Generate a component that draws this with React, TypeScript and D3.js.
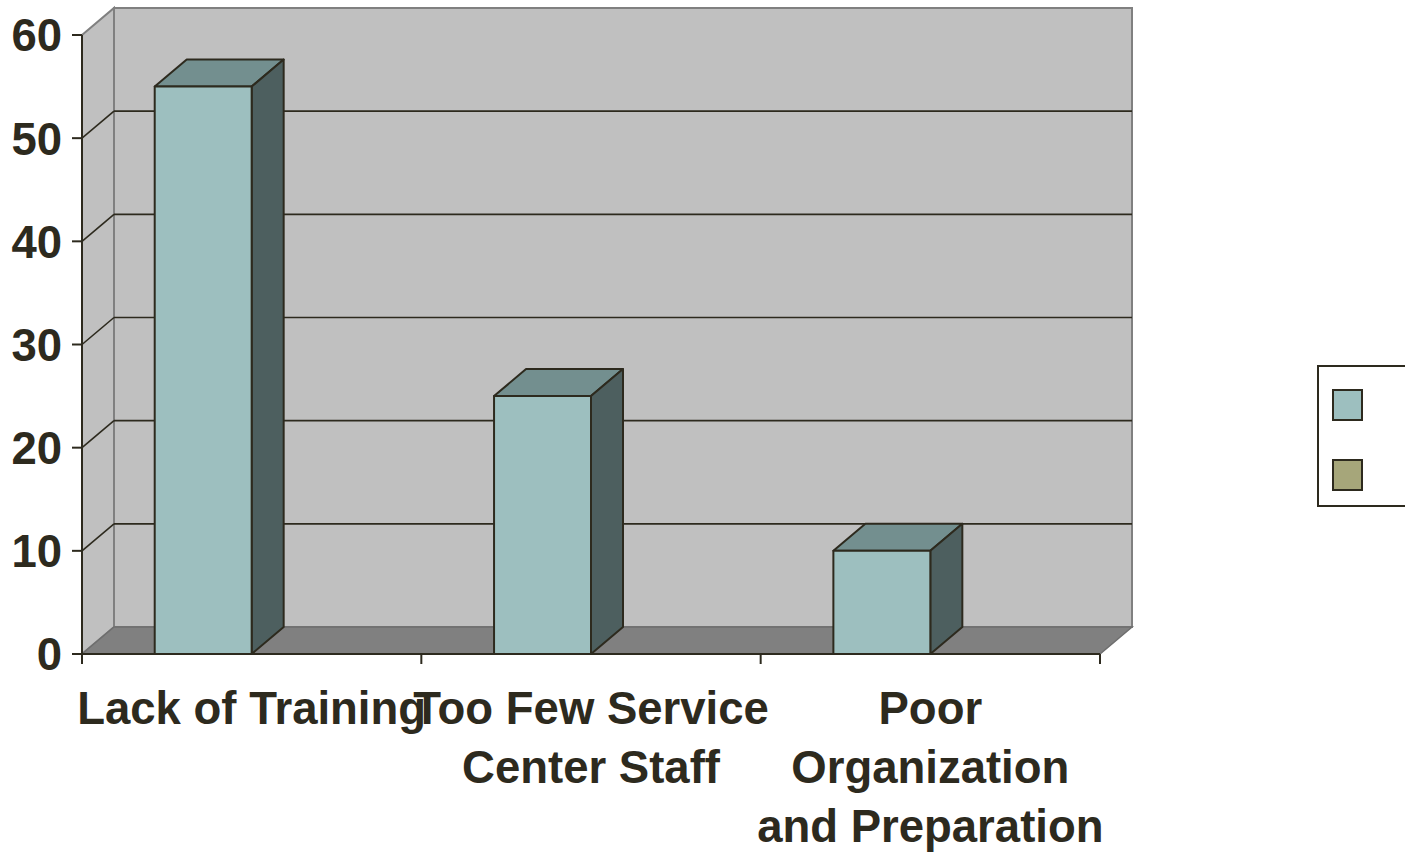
import React, { useEffect } from 'react';
import * as d3 from 'd3';

// chart data
const categories = ['Lack of Training', 'Too Few Service Center Staff', 'Poor Organization and Preparation'];
const categoryLines = [['Lack of Training'], ['Too Few Service', 'Center Staff'], ['Poor', 'Organization', 'and Preparation']];
const seriesNames = ['Series 1', 'Series 2'];
const seriesValues: (number | null)[][] = [
  [55, 25, 10],
  [null, null, null],
];
const yTicks = [0, 10, 20, 30, 40, 50, 60];

const seriesFront = ['#9dbfbf', '#a6a67a'];
const seriesTop = ['#738f8f', '#7d7d5c'];
const seriesSide = ['#4d5f5f', '#55553f'];
const ink = '#2d2a1e';
const font = '"Liberation Sans", Arial, sans-serif';

const W = 1405;
const H = 858;
const dx = 32;
const dy = -27;

const App: React.FC = () => {
  useEffect(() => {
    document.body.style.margin = '0';
  }, []);

  const x = d3.scaleBand<string>().domain(categories).range([82, 1100]).paddingInner(0).paddingOuter(0);
  const y = d3.scaleLinear().domain([0, 60]).range([654, 35]);

  const x0 = x.range()[0];
  const x1 = x.range()[1];
  const yBot = y(0);
  const yTop = y(60);

  const barW = x.bandwidth() / (seriesNames.length + 1.5);

  const poly = (pts: [number, number][]) => 'M' + pts.map(p => p.join(',')).join('L') + 'Z';

  return (
    <svg width={W} height={H} style={{ display: 'block' }} fontFamily={font}>
      {/* walls */}
      <rect x={x0 + dx} y={yTop + dy} width={x1 - x0} height={yBot - yTop} fill="#c0c0c0" stroke="#808080" strokeWidth={2} />
      <path d={poly([[x0, yTop], [x0 + dx, yTop + dy], [x0 + dx, yBot + dy], [x0, yBot]])} fill="#c0c0c0" stroke="#808080" strokeWidth={2} />
      <path d={poly([[x0, yBot], [x1, yBot], [x1 + dx, yBot + dy], [x0 + dx, yBot + dy]])} fill="#808080" stroke="#6e6e6e" strokeWidth={1.5} />

      {/* gridlines */}
      {yTicks.filter(t => t > 0 && t < 60).map(t => (
        <g key={t}>
          <line x1={x0} y1={y(t)} x2={x0 + dx} y2={y(t) + dy} stroke={ink} strokeWidth={1.6} />
          <line x1={x0 + dx} y1={y(t) + dy} x2={x1 + dx} y2={y(t) + dy} stroke={ink} strokeWidth={1.6} />
        </g>
      ))}

      {/* bars */}
      {categories.map((c, ci) => (
        <g key={c}>
          {seriesValues.map((vals, si) => {
            const v = vals[ci];
            if (v == null) return null;
            const bx = (x(c) as number) + barW * 0.75 + si * barW;
            const bt = y(v);
            return (
              <g key={si} stroke={ink} strokeWidth={2} strokeLinejoin="round">
                <path d={poly([[bx, bt], [bx + dx, bt + dy], [bx + barW + dx, bt + dy], [bx + barW, bt]])} fill={seriesTop[si]} />
                <path d={poly([[bx + barW, bt], [bx + barW + dx, bt + dy], [bx + barW + dx, yBot + dy], [bx + barW, yBot]])} fill={seriesSide[si]} />
                <rect x={bx} y={bt} width={barW} height={yBot - bt} fill={seriesFront[si]} />
              </g>
            );
          })}
        </g>
      ))}

      {/* axes */}
      <line x1={x0} y1={yTop} x2={x0} y2={yBot} stroke={ink} strokeWidth={2} />
      <line x1={x0} y1={yBot} x2={x1} y2={yBot} stroke={ink} strokeWidth={2} />
      {yTicks.map(t => (
        <g key={t}>
          <line x1={x0 - 10} y1={y(t)} x2={x0} y2={y(t)} stroke={ink} strokeWidth={2} />
          <text x={x0 - 20} y={y(t)} dy="0.36em" textAnchor="end" fontSize={45.5} fontWeight="bold" fill={ink}>{t}</text>
        </g>
      ))}
      {[...categories.map(c => x(c) as number), x1].map((tx, i) => (
        <line key={i} x1={tx} y1={yBot} x2={tx} y2={yBot + 10} stroke={ink} strokeWidth={2} />
      ))}
      {categories.map((c, ci) => (
        <text key={c} textAnchor="middle" fontSize={45.5} fontWeight="bold" fill={ink}>
          {categoryLines[ci].map((ln, li) => (
            <tspan key={li} x={(x(c) as number) + x.bandwidth() / 2} y={724 + li * 59}>{ln}</tspan>
          ))}
        </text>
      ))}

      {/* legend */}
      <rect x={1318} y={366} width={120} height={140} fill="#ffffff" stroke={ink} strokeWidth={2} />
      {seriesNames.map((s, i) => (
        <rect key={s} x={1333} y={390 + i * 70} width={29} height={30} fill={seriesFront[i]} stroke={ink} strokeWidth={2} />
      ))}
    </svg>
  );
};

export default App;
